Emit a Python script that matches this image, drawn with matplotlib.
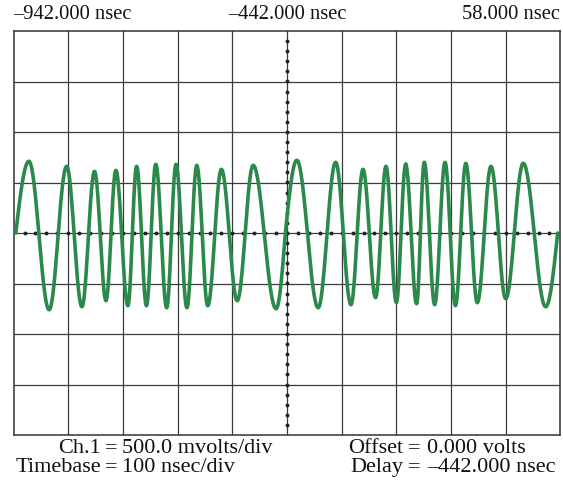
import numpy as np
import matplotlib
matplotlib.use('Agg')
import matplotlib.pyplot as plt

# extrema / zero points of the trace (nsec, volts)
t_pts = [-938, -914, -877, -845, -817, -794, -773, -755, -733, -717, -699,
         -682, -662, -645, -625, -607, -587, -562, -533, -504, -462,
         -445, -424, -385, -353, -325, -303, -280, -261, -242, -225,
         -205, -191, -172, -153, -134, -115, -94, -69, -42, -10, 31, 53]
v_pts = [0.0, 0.71, -0.76, 0.66, -0.73, 0.61, -0.67, 0.62, -0.72, 0.66, -0.72,
         0.68, -0.74, 0.68, -0.74, 0.67, -0.72, 0.63, -0.67, 0.67, -0.75,
         0.0, 0.72, -0.74, 0.70, -0.71, 0.63, -0.64, 0.66, -0.69, 0.68,
         -0.70, 0.70, -0.71, 0.70, -0.72, 0.69, -0.69, 0.66, -0.65, 0.69, -0.73, 0.02]
zero_idx = [0, 21, 42]

t_left, t_mid, t_right = -942.0, -442.0, 58.0
volts_div = 0.5
nsec_div = 100.0

top_labels = ['\u2013942.000 nsec', '\u2013442.000 nsec', '58.000 nsec']
info_left = [('Ch.1', '500.0 mvolts/div'), ('Timebase', '100 nsec/div')]
info_right = [('Offset', '0.000 volts'), ('Delay', '\u2013442.000 nsec')]


def trace(t_pts, v_pts, zero_idx, n=40):
    xs, ys = [], []
    for i in range(len(t_pts) - 1):
        t0, t1 = t_pts[i], t_pts[i + 1]
        v0, v1 = v_pts[i], v_pts[i + 1]
        s = np.linspace(0, 1, n)
        if i in zero_idx:
            v = v1 * np.sin(np.pi / 2 * s)
        elif i + 1 in zero_idx:
            v = v0 * np.cos(np.pi / 2 * s)
        else:
            v = (v0 + v1) / 2 + (v0 - v1) / 2 * np.cos(np.pi * s)
        xs.append(t0 + (t1 - t0) * s)
        ys.append(v)
    return np.concatenate(xs), np.concatenate(ys)


fig = plt.figure(figsize=(5.63, 4.85), dpi=100)
ax = fig.add_axes([13.6 / 563, 49 / 485, 546.8 / 563, 404 / 485])
ax.set_xlim(0, 10)
ax.set_ylim(-4, 4)
ax.set_xticks([])
ax.set_yticks([])
for sp in ax.spines.values():
    sp.set_color('#333333')
    sp.set_linewidth(1.1)

grid_kw = dict(color='#3a3a3a', lw=0.9, zorder=1)
for k in range(1, 10):
    ax.axvline(k, **grid_kw)
for k in range(-3, 4):
    ax.axhline(k, **grid_kw)

# small tick dots on the centre cross
minor = np.arange(0.2, 10, 0.2)
ax.plot(minor, np.zeros_like(minor), ls='none', marker='o', ms=1.8, color='#222222', zorder=2)
minor_y = np.arange(-3.8, 4, 0.2)
ax.plot(np.full_like(minor_y, 5.0), minor_y, ls='none', marker='o', ms=1.8, color='#222222', zorder=2)

x, y = trace(t_pts, v_pts, zero_idx)
ax.plot((x - t_left) / nsec_div, y / volts_div, color='#2b8a4b', lw=2.6, zorder=3,
        solid_capstyle='round')

font = dict(family='Liberation Serif', fontsize=14.8, color='#111111')
fig.text(13.6 / 563, 1 - 14.5 / 485, top_labels[0], ha='left', va='center', **font)
fig.text(287 / 563, 1 - 14.5 / 485, top_labels[1], ha='center', va='center', **font)
fig.text(560 / 563, 1 - 14.5 / 485, top_labels[2], ha='right', va='center', **font)

font_b = dict(font, fontsize=16)
rows_y = [1 - 449 / 485, 1 - 468 / 485]
for (lab, val), yy in zip(info_left, rows_y):
    fig.text(101 / 563, yy, lab, ha='right', va='center', **font_b)
    fig.text(111.5 / 563, yy, '=', ha='center', va='center', **font_b)
    fig.text(122 / 563, yy, val, ha='left', va='center', **font_b)
for (lab, val), yy in zip(info_right, rows_y):
    fig.text(403 / 563, yy, lab, ha='right', va='center', **font_b)
    fig.text(414 / 563, yy, '=', ha='center', va='center', **font_b)
    fig.text(427 / 563, yy, val, ha='left', va='center', **font_b)

fig.savefig('out.png', dpi=100)
